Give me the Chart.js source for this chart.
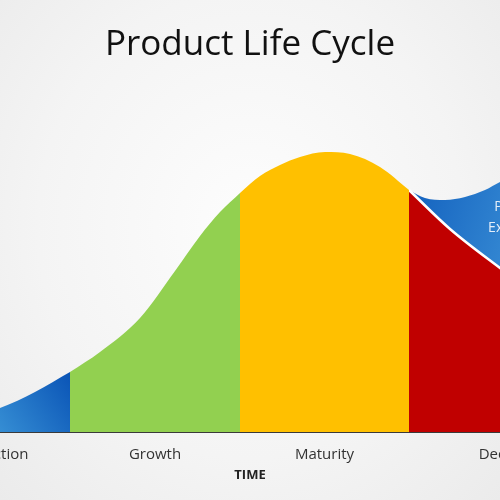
<!DOCTYPE html>
<html>
<head>
<meta charset="utf-8">
<script src="https://cdn.jsdelivr.net/npm/chart.js@4.4.1/dist/chart.umd.min.js"></script>
<style>
    html, body { margin: 0; padding: 0; width: 500px; height: 500px; overflow: hidden; }
    body { position: relative; background: radial-gradient(ellipse at 50% 45%, #fdfdfd 0%, #f4f4f4 60%, #ebebeb 100%); }
    /* canvas is wider than the window: the reference is a cropped slide */
    #plc { position: absolute; left: -100px; top: 0; }
</style>
</head>
<body>
<canvas id="plc" width="700" height="500"></canvas>
<script>
const stageNames = ['Introduction', 'Growth', 'Maturity', 'Decline'];
const stageBounds = [-100, 70, 240, 409, 600];
const stageColors = ['#0d5cbd', '#92d050', '#ffc000', '#c00000'];

// sales along the main life-cycle curve
const curveTime = [-100, -50, 0, 35, 70, 100, 140, 175, 200, 220, 240, 260, 280, 300, 325, 350, 380, 409, 450, 500, 550, 600];
const curveSales = [4, 11, 24, 40, 60, 80, 114, 161, 196, 220, 239, 256, 267, 275, 280, 278, 265, 242, 203, 164, 127, 92];

// product extension branch
const extensionTime = [409, 425, 445, 465, 485, 500, 540, 580, 600];
const extensionSales = [242, 234, 232, 235, 242, 250, 266, 263, 255];
const extensionLabel = ['Product', 'Extension'];
const extensionLabelTime = 520;
const extensionLabelSales = [225, 204];

const FONT = '"Open Sans", "DejaVu Sans", sans-serif';

function stagePoints(i) {
    const lo = stageBounds[i];
    const hi = stageBounds[i + 1];
    const pts = [];
    curveTime.forEach((t, k) => {
        if (t >= lo && t <= hi) {
            pts.push({ x: t, y: curveSales[k] });
        }
    });
    return pts;
}

function introFill(ctx) {
    const { chart } = ctx;
    if (!chart.chartArea) {
        return stageColors[0];
    }
    const { x, y } = chart.scales;
    const g = chart.ctx.createLinearGradient(x.getPixelForValue(70), y.getPixelForValue(60), x.getPixelForValue(-20), y.getPixelForValue(0));
    g.addColorStop(0, '#0a54b6');
    g.addColorStop(1, '#3d98d9');
    return g;
}

function extensionFill(ctx) {
    const { chart } = ctx;
    if (!chart.chartArea) {
        return '#1d6fc6';
    }
    const { x, y } = chart.scales;
    const g = chart.ctx.createLinearGradient(x.getPixelForValue(409), y.getPixelForValue(240), x.getPixelForValue(540), y.getPixelForValue(200));
    g.addColorStop(0, '#1462bf');
    g.addColorStop(1, '#3a8fd6');
    return g;
}

const datasets = stageNames.map((name, i) => ({
    label: name,
    data: stagePoints(i),
    backgroundColor: i === 0 ? introFill : stageColors[i],
    borderColor: i === 3 ? '#ffffff' : 'rgba(0,0,0,0)',
    borderWidth: i === 3 ? 2.5 : 0,
    fill: 'origin',
    cubicInterpolationMode: 'monotone',
    pointRadius: 0,
}));

datasets.push({
    label: 'Product Extension',
    data: extensionTime.map((t, k) => ({ x: t, y: extensionSales[k] })),
    backgroundColor: extensionFill,
    borderWidth: 0,
    fill: 'origin',
    cubicInterpolationMode: 'monotone',
    pointRadius: 0,
});

const extensionText = {
    id: 'extensionText',
    afterDatasetsDraw(chart) {
        const { ctx, scales: { x, y } } = chart;
        ctx.save();
        ctx.fillStyle = '#e4eef9';
        ctx.font = '14px ' + FONT;
        ctx.textAlign = 'center';
        ctx.textBaseline = 'middle';
        extensionLabel.forEach((t, i) => {
            ctx.fillText(t, x.getPixelForValue(extensionLabelTime), y.getPixelForValue(extensionLabelSales[i]));
        });
        ctx.restore();
    },
};

new Chart(document.getElementById('plc'), {
    type: 'line',
    data: { datasets },
    plugins: [extensionText],
    options: {
        responsive: false,
        animation: false,
        events: [],
        layout: { padding: 0 },
        plugins: {
            legend: { display: false },
            tooltip: { enabled: false },
            title: {
                display: true,
                text: 'Product Life Cycle',
                color: '#111111',
                font: { family: FONT, size: 35, weight: 'normal', lineHeight: 40 / 35 },
                padding: { top: 25, bottom: 10 },
            },
        },
        scales: {
            x: {
                type: 'linear',
                min: stageBounds[0],
                max: stageBounds[stageBounds.length - 1],
                z: 1,
                grid: { display: false, drawTicks: false },
                border: { display: true, color: '#3a3a3a', width: 2 },
                ticks: {
                    autoSkip: false,
                    maxRotation: 0,
                    padding: 14,
                    color: '#333333',
                    font: { family: FONT, size: 15 },
                    callback: (v, i) => stageNames[i],
                },
                title: {
                    display: true,
                    text: 'TIME',
                    color: '#222222',
                    font: { family: FONT, size: 13, weight: 'bold' },
                    padding: { top: 0, bottom: 17 },
                },
                afterBuildTicks: (scale) => {
                    scale.ticks = stageNames.map((n, i) => ({ value: (stageBounds[i] + stageBounds[i + 1]) / 2 }));
                },
                afterFit: (scale) => {
                    scale.height = 68;
                },
            },
            y: { display: false, min: 0, max: 357 },
        },
    },
});
</script>
</body>
</html>
